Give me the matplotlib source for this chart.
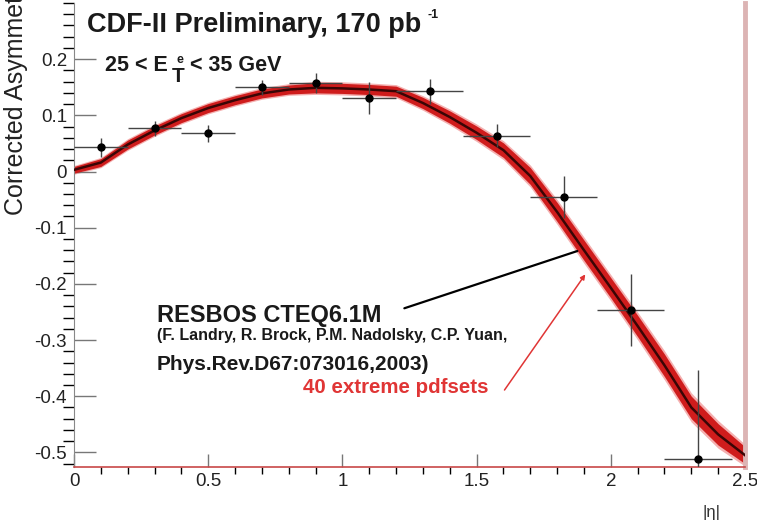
import matplotlib
matplotlib.use("Agg")
import matplotlib.pyplot as plt
import numpy as np

plt.rcParams['font.family'] = ['Liberation Sans', 'DejaVu Sans']
plt.rcParams['axes.unicode_minus'] = False

# measured W charge asymmetry in |eta| bins
bin_edges = [0.0, 0.2, 0.4, 0.6, 0.8, 1.0, 1.2, 1.45, 1.7, 1.95, 2.2, 2.45]
asym = [0.043, 0.077, 0.068, 0.150, 0.158, 0.131, 0.143, 0.064, -0.045, -0.246, -0.512]
asym_err = [0.017, 0.013, 0.015, 0.013, 0.018, 0.028, 0.022, 0.020, 0.037, 0.064, 0.158]

# RESBOS CTEQ6.1M prediction and spread of the 40 extreme pdf sets
curve_eta = [0.0, 0.1, 0.2, 0.3, 0.4, 0.5, 0.6, 0.7, 0.8, 0.9, 1.0, 1.1, 1.2,
             1.3, 1.4, 1.5, 1.6, 1.7, 1.8, 1.9, 2.0, 2.1, 2.2, 2.3, 2.4, 2.5]
curve_asym = [0.003, 0.016, 0.048, 0.073, 0.095, 0.113, 0.127, 0.139, 0.146, 0.149,
              0.148, 0.146, 0.143, 0.122, 0.097, 0.069, 0.038, -0.008, -0.072, -0.140,
              -0.207, -0.275, -0.345, -0.420, -0.468, -0.505]
pdf_spread = [0.006, 0.007, 0.008, 0.008, 0.008, 0.008, 0.008, 0.008, 0.008, 0.009,
              0.009, 0.009, 0.009, 0.010, 0.011, 0.012, 0.013, 0.015, 0.017, 0.018,
              0.018, 0.019, 0.020, 0.020, 0.019, 0.015]

W, H = 757, 524


def px(x, y):
    """pixel position (from top-left) -> figure fraction"""
    return x / W, 1 - y / H


fig = plt.figure(figsize=(W / 100, H / 100), dpi=100)
ax = fig.add_axes([74 / W, 1 - 467 / H, (745 - 74) / W, (467 - 3) / H])

edges = np.array(bin_edges)
centers = (edges[:-1] + edges[1:]) / 2
half_w = (edges[1:] - edges[:-1]) / 2

c = np.array(curve_asym)
s = np.array(pdf_spread)
# pdf band: soft outer edge, dark red core, black central line
ax.fill_between(curve_eta, c - 1.3 * s, c + 1.3 * s, color='#f4b0b0', lw=0, zorder=1)
ax.fill_between(curve_eta, c - s, c + s, color='#cf1c1c', lw=0, zorder=2)
ax.plot(curve_eta, curve_asym, color='#3a0505', lw=1.8, zorder=3)

ax.errorbar(centers, asym, xerr=half_w, yerr=asym_err, fmt='o', color='black',
            ecolor='#444444', elinewidth=1, markersize=5, capsize=0, zorder=4)

ax.set_xlim(0, 2.5)
ax.set_ylim(-0.526, 0.30)

ax.set_xticks([0, 0.5, 1, 1.5, 2, 2.5])
ax.set_xticklabels(['0', '0.5', '1', '1.5', '2', '2.5'])
ax.set_xticks(np.arange(0, 2.51, 0.1), minor=True)
yt = [-0.5, -0.4, -0.3, -0.2, -0.1, 0, 0.1, 0.2]
ax.set_yticks(yt)
ax.set_yticklabels([f"{v:g}" for v in yt])
ax.set_yticks(np.arange(-0.52, 0.301, 0.02), minor=True)

ax.tick_params(direction='in', colors='#777777', labelcolor='#222222', labelsize=13.5)
ax.tick_params(axis='y', which='major', length=16, width=1, pad=5)
ax.tick_params(axis='y', which='minor', length=8, width=1)
ax.tick_params(axis='x', which='major', length=9.5, width=1, pad=4)
ax.tick_params(axis='x', which='minor', length=5, width=1)
ax.tick_params(right=False, top=False, which='both')

ax.spines['top'].set_visible(False)
ax.spines['left'].set_color('#888888')
ax.spines['bottom'].set_color('#c84848')
ax.spines['bottom'].set_linewidth(1.2)
ax.spines['right'].set_color('#dcb4b4')
ax.spines['right'].set_linewidth(3.5)

ink = '#1a1a1a'

# header
t = fig.text(*px(87, 32), "CDF-II Preliminary, 170 pb", fontsize=19.5,
             fontweight='bold', color=ink, va='baseline')
sub = fig.text(*px(105, 71), "25 < E", fontsize=15.5, fontweight='bold',
               color=ink, va='baseline')
fig.canvas.draw()
r = fig.canvas.get_renderer()
x_end = t.get_window_extent(r).x1
fig.text(*px(x_end + 6, 18), "-1", fontsize=9, fontweight='bold',
         color=ink, va='baseline')
e_end = sub.get_window_extent(r).x1
fig.text(*px(e_end + 9, 63), "e", fontsize=9, fontweight='bold',
         color=ink, va='baseline')
fig.text(*px(e_end + 4, 82), "T", fontsize=15, fontweight='bold',
         color=ink, va='baseline')
fig.text(*px(e_end + 22, 71), "< 35 GeV", fontsize=15.5, fontweight='bold',
         color=ink, va='baseline')

# axis titles
fig.text(*px(16, 215), "Corrected Asymmetry", fontsize=18, rotation=90,
         ha='center', va='bottom', color='#222222')
fig.text(*px(711, 513), "|η|", fontsize=12, ha='center', va='center', color='#333333')

# theory labels
fig.text(*px(157, 322), "RESBOS CTEQ6.1M", fontsize=17, fontweight='bold',
         color=ink, va='baseline')
fig.text(*px(157, 340), "(F. Landry, R. Brock, P.M. Nadolsky, C.P. Yuan,",
         fontsize=11.5, fontweight='bold', color=ink, va='baseline')
fig.text(*px(157, 370), "Phys.Rev.D67:073016,2003)", fontsize=15,
         fontweight='bold', color=ink, va='baseline')
fig.text(*px(303, 393), "40 extreme pdfsets", fontsize=14.8, fontweight='bold',
         color='#e03535', va='baseline')

ax.annotate("", xy=(1.885, -0.140), xytext=(1.221, -0.245),
            arrowprops=dict(arrowstyle='-', color='black', lw=1.6), zorder=5)
ax.annotate("", xy=(1.911, -0.179), xytext=(1.598, -0.393),
            arrowprops=dict(arrowstyle='-|>', color='#e03535', lw=1.1,
                            mutation_scale=7), zorder=5)

fig.savefig("out.png", dpi=100)
